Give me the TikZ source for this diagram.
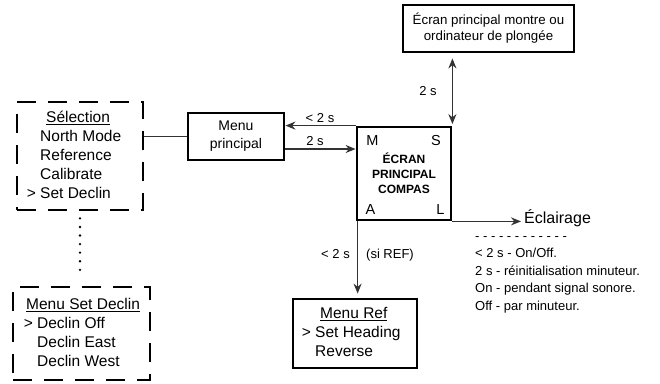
\documentclass[tikz,border=0pt]{standalone}
\usepackage{fontspec}
\setmainfont{Liberation Sans}
\usetikzlibrary{arrows.meta,positioning}

\begin{document}
\begin{tikzpicture}[
    x=1pt, y=-1pt,
    box/.style={rectangle, draw, line width=2.8pt, align=center, inner sep=0pt},
    menubox/.style={rectangle, draw, dash pattern=on 19pt off 12pt, line width=2.8pt, inner sep=0pt},
    body/.style={font=\fontsize{15.5}{19}\selectfont, align=left, inner sep=0pt, anchor=north west},
    small/.style={font=\fontsize{13}{17}\selectfont, inner sep=0pt, anchor=base},
    corner/.style={font=\fontsize{14.5}{17}\selectfont, inner sep=0pt},
    arrow/.style={-{Stealth[length=10pt,width=8pt]}, line width=1.4pt, black!80}
]
\useasboundingbox (0,0) rectangle (660,383);

% Compass screen
\node[box, minimum width=94pt, minimum height=93pt] (centre) at (404,173.5) {};
\node[font=\fontsize{12}{15}\bfseries, align=center, inner sep=0pt] (ctitle) at (centre.center) {ÉCRAN\\PRINCIPAL\\COMPAS};
\node[corner] (keym) at (372.5,141) {M};
\node[corner] (keys) at (436,141) {S};
\node[corner] (keya) at (370.5,209.7) {A};
\node[corner] (keyl) at (440.5,209.7) {L};

% Other boxes
\node[box, minimum width=171pt, minimum height=47pt, font=\fontsize{13.3}{16}\selectfont] (ecran) at (488.5,28.5) {Écran principal montre ou\\ordinateur de plongée};
\node[box, minimum width=96pt, minimum height=47pt, font=\fontsize{14}{18}\selectfont] (menu) at (236,136.5) {Menu\\principal};
\node[box, minimum width=124pt, minimum height=69pt] (ref) at (355,333.5) {};
\node[body] (reftxt) at (315,307) {\hspace*{5pt}\underline{Menu Ref}\\\llap{> }Set Heading\\Reverse};

% Dashed menus
\node[menubox, minimum width=126pt, minimum height=108pt] (sel) at (80,156) {};
\node[body] (seltxt) at (40,111) {\hspace*{6pt}\underline{Sélection}\\North Mode\\Reference\\Calibrate\\\llap{> }Set Declin};
\node[menubox, minimum width=137pt, minimum height=93pt] (setd) at (81.5,333.5) {};
\node[body] (setdtxt) at (26,298) {\underline{Menu Set Declin}\\\hspace*{11pt}\llap{> }Declin Off\\\hspace*{11pt}Declin East\\\hspace*{11pt}Declin West};

% Lighting
\node[font=\fontsize{16}{19}\selectfont, inner sep=0pt, anchor=base west] (ecl) at (524,223.7) {Éclairage};
\node[font=\fontsize{13}{17.5}\selectfont, align=left, inner sep=0pt, anchor=north west] (notes) at (475,236) {- - - - - - - - - - - -\\< 2 s - On/Off.\\2 s - réinitialisation minuteur.\\On - pendant signal sonore.\\Off - par minuteur.};

% Connectors
\draw[line width=1.4pt, black!80] (menu.west -| sel.east) -- (menu.west);
\draw[line width=2.6pt, line cap=round, dash pattern=on 0pt off 8.57pt, shorten <=7pt, shorten >=10pt] (sel.south) -- (setd.north -| sel.south);
\draw[arrow] (centre.north west) -- (centre.north west -| menu.east);
\draw[arrow] ([yshift=-12.5pt]menu.east) -- ([yshift=-12.5pt]menu.east -| centre.west);
\draw[arrow, {Stealth[length=10pt,width=8pt]}-{Stealth[length=10pt,width=8pt]}, shorten <=1.5pt, shorten >=5pt] (centre.north east) -- (centre.north east |- ecran.south);
\draw[arrow, shorten >=4pt] ([xshift=2pt]centre.south west) -- ([xshift=2pt]centre.south west |- ref.north);
\draw[arrow, shorten >=3pt] (centre.south east) -- (centre.south east -| ecl.west);

% Labels
\node[small] (lt1) at (320,122.7) {< 2 s};
\node[small] (two1) at (315,145) {2 s};
\node[small] (two2) at (428,95) {2 s};
\node[small] (lt2) at (335.5,258) {< 2 s};
\node[small] (siref) at (390,258) {(si REF)};

\end{tikzpicture}
\end{document}
